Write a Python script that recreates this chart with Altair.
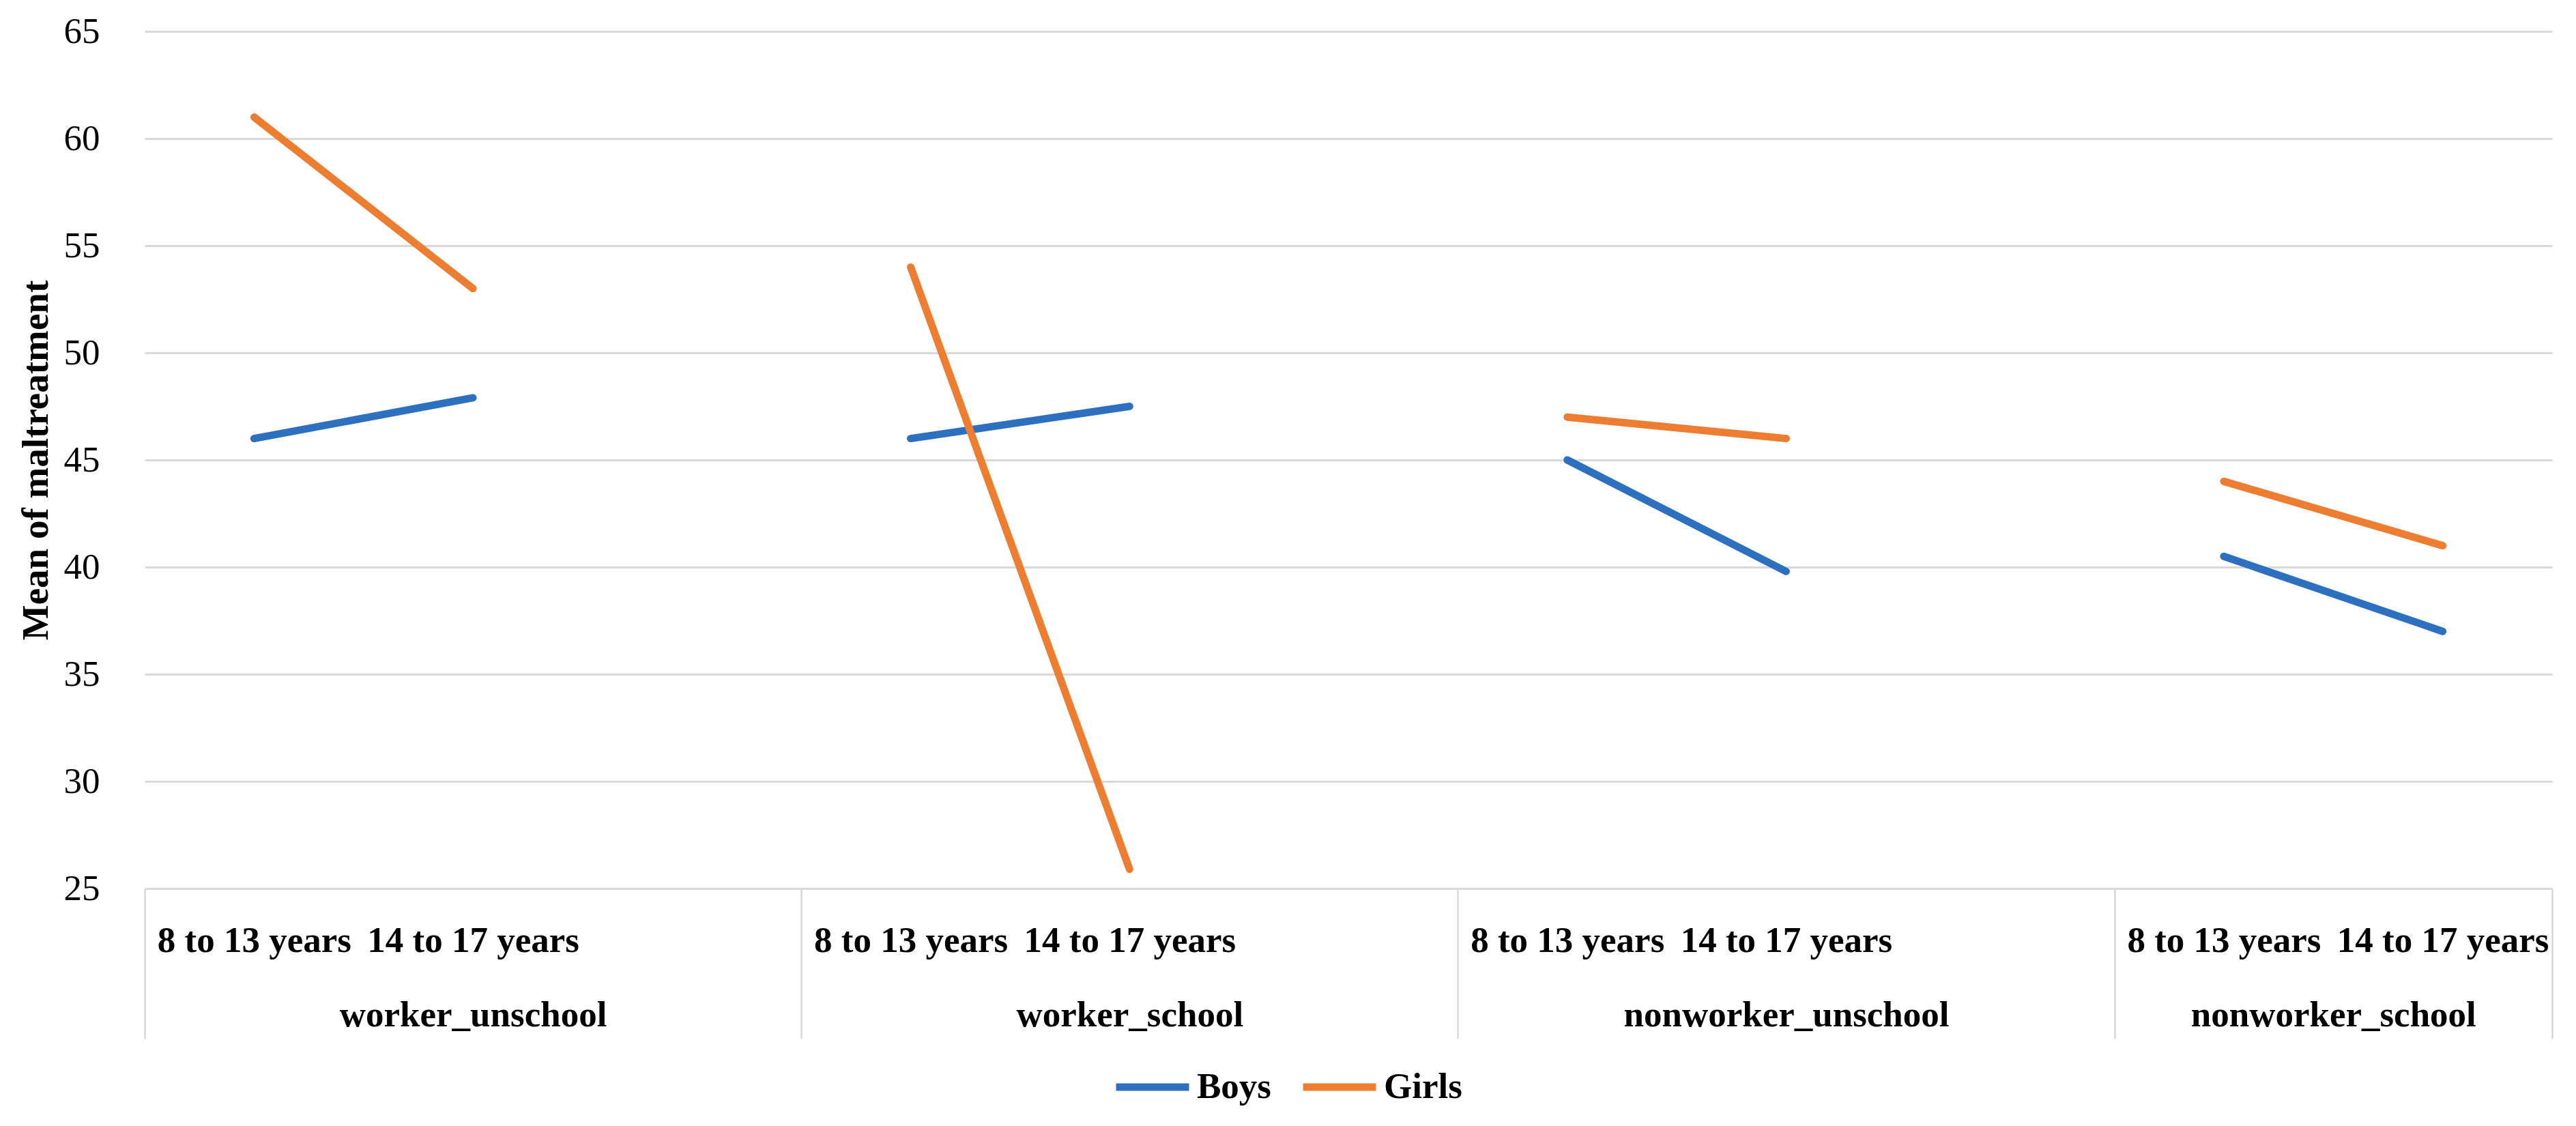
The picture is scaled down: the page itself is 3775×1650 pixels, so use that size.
import altair as alt
import pandas as pd

# ---- data ----
groups = ["worker_unschool", "worker_school", "nonworker_unschool", "nonworker_school"]
ages = ["8 to 13 years", "14 to 17 years"]
series = ["Boys", "Girls"]
boys = [46.0, 47.9, 46.0, 47.5, 45.0, 39.8, 40.5, 37.0]
girls = [61.0, 53.0, 54.0, 25.9, 47.0, 46.0, 44.0, 41.0]
y_ticks = [25, 30, 35, 40, 45, 50, 55, 60, 65]
colors = ["#2E70C0", "#ED7D31"]

# Excel-like category slots: each group has its two ages plus one empty slot,
# except the last group
slots_per_group = len(ages) + 1
n_slots = slots_per_group * len(groups) - 1

rows = []
for s, vals in zip(series, [boys, girls]):
    for gi, g in enumerate(groups):
        for ai, a in enumerate(ages):
            rows.append({
                "series": s,
                "group": g,
                "age": a,
                "pos": gi * slots_per_group + ai,
                "value": vals[gi * len(ages) + ai],
            })
df = pd.DataFrame(rows)

# group boundaries and centers (in slot units)
bounds = [gi * slots_per_group - 0.5 for gi in range(len(groups))] + [n_slots - 0.5]
centers = [(bounds[i] + bounds[i + 1]) / 2 for i in range(len(groups))]
age_positions = sorted(df["pos"].unique().tolist())

age_expr = f"datum.value % {slots_per_group} == 0 ? '{ages[0]}' : '{ages[1]}'"
grp_expr = "''"
for c, g in reversed(list(zip(centers, groups))):
    grp_expr = f"(abs(datum.value - {c}) < 0.01 ? '{g}' : {grp_expr})"

FONT = "Liberation Serif"
GRID = "#D9D9D9"

xscale = alt.Scale(domain=[-0.5, n_slots - 0.5], nice=False, zero=False)

yenc = alt.Y(
    "value:Q",
    scale=alt.Scale(domain=[y_ticks[0], y_ticks[-1]], nice=False, zero=False),
    axis=alt.Axis(
        values=y_ticks,
        grid=True, gridColor=GRID, gridWidth=3,
        ticks=False, domain=False,
        labelFont=FONT, labelFontSize=53, labelColor="#000000", labelPadding=66,
        title="Mean of maltreatment",
        titleFont=FONT, titleFontSize=55, titleFontWeight="bold",
        titleColor="#000000", titlePadding=12,
    ),
)

axis_sep = alt.Axis(
    orient="bottom", values=bounds, labels=False, domain=False, grid=False,
    ticks=True, tickSize=220, tickColor=GRID, tickWidth=2.5, title=None,
)
axis_age = alt.Axis(
    orient="bottom", values=age_positions, labelExpr=age_expr, domain=False,
    grid=False, ticks=False, labelFont=FONT, labelFontSize=53,
    labelFontWeight="bold", labelColor="#000000", labelPadding=76,
    labelBaseline="middle", labelOverlap=False, labelLimit=0, title=None,
)
axis_grp = alt.Axis(
    orient="bottom", values=centers, labelExpr=grp_expr, domain=False,
    grid=False, ticks=False, labelFont=FONT, labelFontSize=53,
    labelFontWeight="bold", labelColor="#000000", labelPadding=185,
    labelBaseline="middle", labelOverlap=False, labelLimit=0, title=None,
)

base = alt.Chart(df)

lines = base.mark_line(strokeWidth=11, strokeCap="round", strokeJoin="round").encode(
    x=alt.X("pos:Q", scale=xscale, axis=axis_sep),
    y=yenc,
    color=alt.Color(
        "series:N",
        scale=alt.Scale(domain=series, range=colors),
        legend=alt.Legend(
            title=None, orient="none", direction="horizontal",
            legendX=1418, legendY=1488,
            symbolType="stroke", symbolSize=11449, symbolStrokeWidth=11,
            labelFont=FONT, labelFontSize=53, labelFontWeight="bold",
            labelColor="#000000", labelOffset=6, columnPadding=24, padding=0,
        ),
    ),
    detail="group:N",
)

ages_layer = base.mark_point(opacity=0).encode(
    x=alt.X("pos:Q", scale=xscale, axis=axis_age), y=yenc
)
grp_layer = base.mark_point(opacity=0).encode(
    x=alt.X("pos:Q", scale=xscale, axis=axis_grp), y=yenc
)

chart = (
    alt.layer(lines, ages_layer, grp_layer)
    .resolve_axis(x="independent")
    .properties(
        width=3528, height=1256,
        autosize=alt.AutoSizeParams(type="none"),
        padding={"left": 204, "top": 38, "right": 20, "bottom": 340},
        background="#FFFFFF",
    )
    .configure_view(stroke=None)
)

chart.save("out.html", embed_options={"renderer": "svg", "actions": False})
